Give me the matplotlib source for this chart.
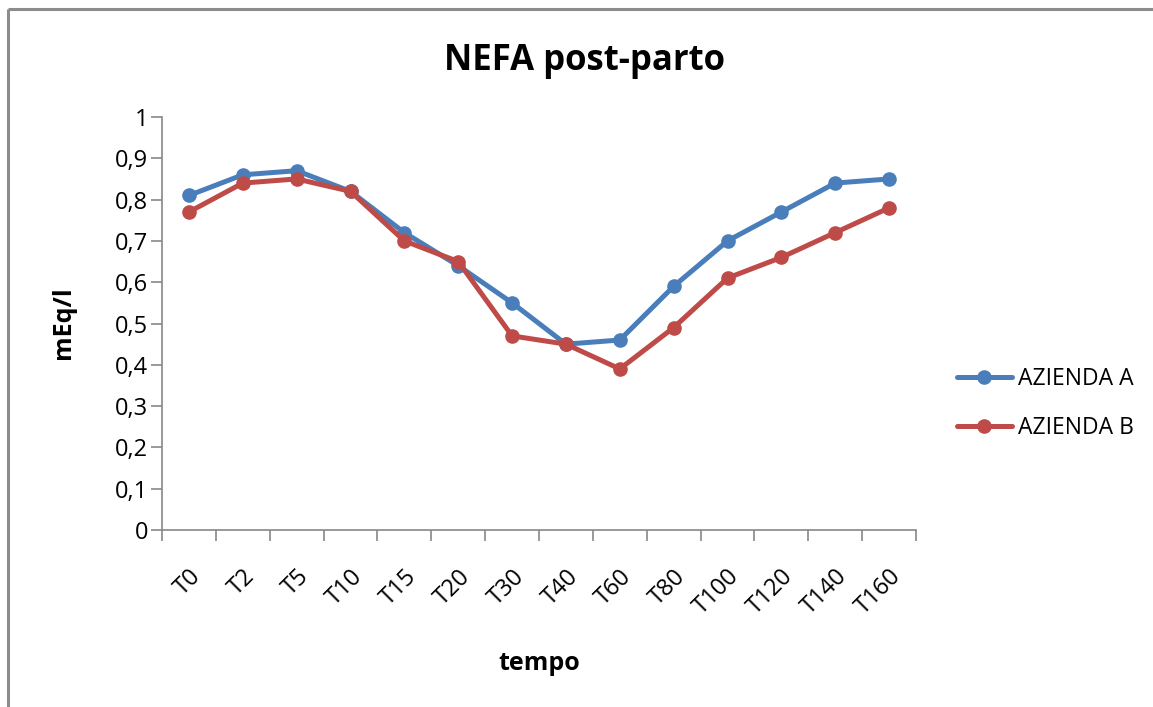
import matplotlib
matplotlib.use("Agg")
import matplotlib.pyplot as plt
from matplotlib.lines import Line2D

plt.rcParams['font.family'] = ['Open Sans', 'DejaVu Sans']

categories = ["T0", "T2", "T5", "T10", "T15", "T20", "T30", "T40",
              "T60", "T80", "T100", "T120", "T140", "T160"]
azienda_a = [0.81, 0.86, 0.87, 0.82, 0.72, 0.64, 0.55, 0.45,
             0.46, 0.59, 0.70, 0.77, 0.84, 0.85]
azienda_b = [0.77, 0.84, 0.85, 0.82, 0.70, 0.65, 0.47, 0.45,
             0.39, 0.49, 0.61, 0.66, 0.72, 0.78]
y_ticks = [0, 0.1, 0.2, 0.3, 0.4, 0.5, 0.6, 0.7, 0.8, 0.9, 1]
series_names = ["AZIENDA A", "AZIENDA B"]
colors = ["#4A7EBB", "#BE4B48"]

W, H = 1153, 707
fig = plt.figure(figsize=(W / 100, H / 100), dpi=100)
fig.patch.set_facecolor("white")

# chart frame (left and top edges visible)
frame_kw = dict(transform=fig.transFigure, color="#8C8C8C", lw=2.2,
                solid_capstyle="butt")
fig.add_artist(Line2D([8 / W, 8 / W], [-0.01, 1 - 9 / H], **frame_kw))
fig.add_artist(Line2D([8 / W, 1.01], [1 - 9 / H, 1 - 9 / H], **frame_kw))

ax = fig.add_axes([162 / W, 1 - 530 / H, (916 - 162) / W, (530 - 117) / H])
x = list(range(len(categories)))
for vals, name, c in zip([azienda_a, azienda_b], series_names, colors):
    ax.plot(x, vals, color=c, lw=3.6, marker="o", markersize=9.5,
            solid_capstyle="round", label=name)

ax.set_xlim(-0.5, len(categories) - 0.5)
ax.set_ylim(0, 1)

for s in ["top", "right"]:
    ax.spines[s].set_visible(False)
for s in ["left", "bottom"]:
    ax.spines[s].set_color("#888888")
    ax.spines[s].set_linewidth(1.2)

ax.set_yticks(y_ticks)
ax.set_yticklabels([f"{v:g}".replace(".", ",") for v in y_ticks], fontsize=17)
ax.tick_params(axis="y", length=8, width=1.2, color="#888888", pad=2)

# category boundaries carry the tick marks; labels sit at category centres
ax.set_xticks([i - 0.5 for i in range(len(categories) + 1)])
ax.set_xticklabels([])
ax.tick_params(axis="x", which="major", length=8, width=1.2, color="#888888")
ax.set_xticks(x, minor=True)
ax.set_xticklabels(categories, minor=True, fontsize=17, rotation=45,
                   ha="right", va="top", rotation_mode="anchor")
ax.tick_params(axis="x", which="minor", length=0, pad=25)

fig.text(584 / W, 1 - 61 / H, "NEFA post-parto", fontsize=25, fontweight="bold",
         ha="center", va="center")
fig.text(63 / W, 1 - 323 / H, "mEq/l", fontsize=18, fontweight="bold",
         rotation=90, ha="center", va="center")
fig.text(539 / W, 1 - 664 / H, "tempo", fontsize=18, fontweight="bold",
         ha="center", va="center")

ax.legend(loc="center left", bbox_to_anchor=(1.027, 0.306), frameon=False,
          fontsize=16.5, handlelength=2.4, handletextpad=0.25, labelspacing=1.1)

fig.savefig("out.png", dpi=100, facecolor="white")
